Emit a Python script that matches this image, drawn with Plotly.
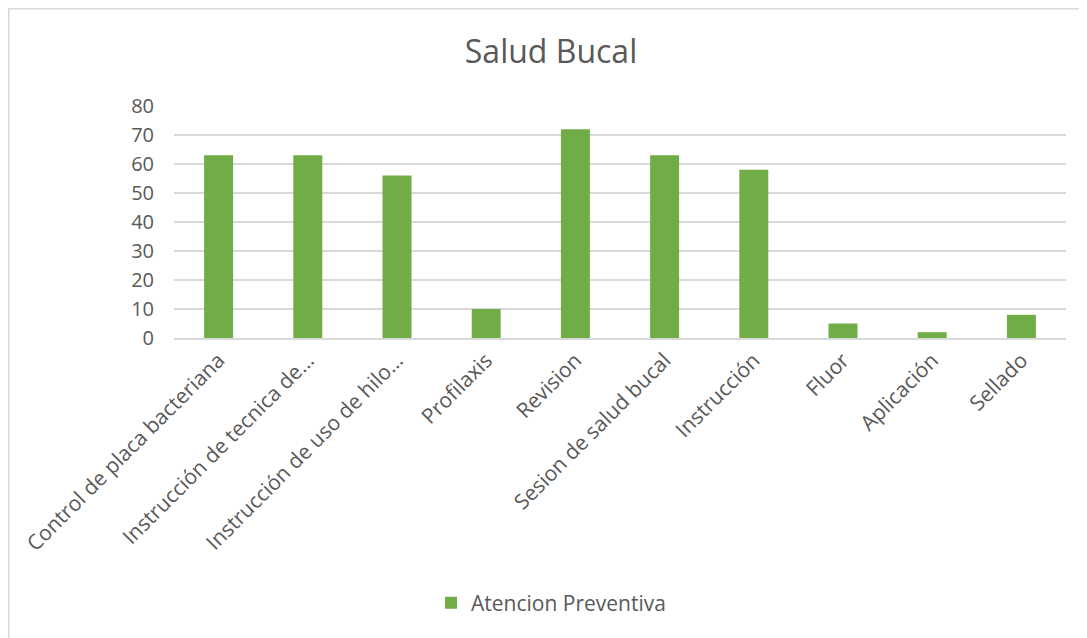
import plotly.graph_objects as go

categories = ["Control de placa bacteriana", "Instrucción de tecnica de…", "Instrucción de uso de hilo…",
              "Profilaxis", "Revision", "Sesion de salud bucal", "Instrucción", "Fluor", "Aplicación", "Sellado"]
values = [63, 63, 56, 10, 72, 63, 58, 5, 2, 8]
series_name = "Atencion Preventiva"
y_ticks = [0, 10, 20, 30, 40, 50, 60, 70, 80]

FONT = "Open Sans"
TXT = "#595959"
GRID = "#d9d9d9"

fig = go.Figure()
fig.add_trace(go.Bar(x=categories, y=values, name=series_name, marker_color="#70ad47",
                     marker_line_width=0))

# the page adds an 8px body margin, so the figure is 8px smaller than the window
W, H = 1079, 630
L, R, T, B = 166, 21, 98, 300
pw, ph = W - L - R, H - T - B

def px_x(x):
    return (x - L) / pw

def px_y(y):
    return (H - B - y) / ph

fig.update_layout(
    width=W, height=H,
    margin=dict(l=L, r=R, t=T, b=B),
    paper_bgcolor="white", plot_bgcolor="white",
    font=dict(family=FONT, color=TXT, size=20),
    title=dict(text="Salud Bucal", x=543 / W, xanchor="center", y=1 - 44 / H, yanchor="middle",
               font=dict(size=32, color=TXT, family=FONT)),
    bargap=0.675,
    showlegend=True,
    legend=dict(orientation="h", x=px_x(543), xanchor="center", y=px_y(595), yanchor="middle",
                font=dict(size=21, color=TXT), itemwidth=30),
    xaxis=dict(tickangle=-45, showgrid=False, showline=True, linecolor=GRID, linewidth=1.5,
               tickfont=dict(size=21, color=TXT), ticks="", ticklabelstandoff=0),
    yaxis=dict(range=[0, 80], tickvals=y_ticks, showgrid=True, gridcolor=GRID, gridwidth=1.5,
               zeroline=False, showline=False, tickfont=dict(size=20, color=TXT), ticks="",
               ticklabelstandoff=19),
    shapes=[
        dict(type="line", xref="paper", yref="paper", x0=px_x(0), x1=px_x(W), y0=px_y(0.75), y1=px_y(0.75),
             line=dict(color=GRID, width=1.5)),
        dict(type="line", xref="paper", yref="paper", x0=px_x(0.75), x1=px_x(0.75), y0=px_y(0), y1=px_y(H),
             line=dict(color=GRID, width=1.5)),
    ],
)

fig.write_html("out.html")
